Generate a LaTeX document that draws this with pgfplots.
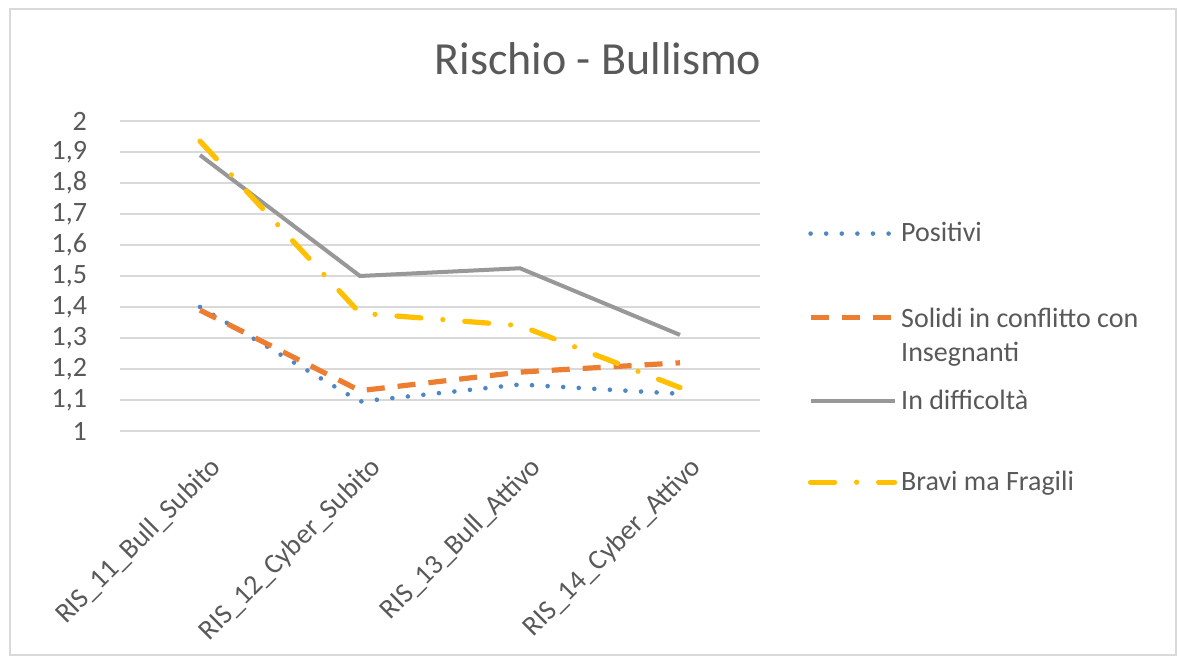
\documentclass[border=0pt]{standalone}
\usepackage{fontspec}
\setmainfont{Carlito}
\usepackage{pgfplots}
\pgfplotsset{compat=1.18}
\definecolor{cblue}{HTML}{4F86C6}
\definecolor{corange}{HTML}{ED7D31}
\definecolor{cgray}{HTML}{989898}
\definecolor{cgold}{HTML}{FFC000}
\definecolor{ctext}{HTML}{595959}
\definecolor{cgrid}{HTML}{D9D9D9}
\begin{document}
\begin{tikzpicture}
\fill[white] (0pt,0pt) rectangle (590pt,329.5pt);
\draw[cgrid, line width=0.8pt] (5pt,2pt) rectangle (588pt,325pt);
\node[font=\fontsize{23}{27}\selectfont, text=ctext] at (299pt,300pt) {Rischio - Bullismo};
\begin{axis}[
  at={(60pt,114pt)}, anchor=south west,
  scale only axis, width=320pt, height=155pt,
  xmin=-0.5, xmax=3.5, ymin=1, ymax=2,
  xtick={0,1,2,3},
  xticklabels={RIS\_11\_Bull\_Subito,RIS\_12\_Cyber\_Subito,RIS\_13\_Bull\_Attivo,RIS\_14\_Cyber\_Attivo},
  ytick={1,1.1,1.2,1.3,1.4,1.5,1.6,1.7,1.8,1.9,2},
  ymajorgrids, grid style={cgrid, line width=0.9pt},
  axis line style={draw=none}, tick style={draw=none},
  /pgf/number format/assume math mode=true,
  /pgf/number format/use comma, /pgf/number format/fixed, /pgf/number format/precision=1,
  tick label style={font=\fontsize{14}{16}\selectfont, text=ctext},
  yticklabel style={xshift=-13pt},
  xticklabel style={rotate=45, anchor=north east, xshift=-2pt, yshift=-8pt},
  legend style={at={(rel axis cs:1.065,0.70)}, anchor=north west, draw=none, fill=none,
    font=\fontsize{14}{17}\selectfont, text=ctext, row sep=25.5pt,
    cells={anchor=west}},
  legend cell align=left,
  legend image code/.code={\draw[#1] (0pt,0pt) -- (42pt,0pt);},
]
\addplot[cblue, line width=2.3pt, line cap=round, dash pattern=on 0pt off 7.8pt] coordinates {(0,1.40) (1,1.095) (2,1.15) (3,1.12)};
\addlegendentry{Positivi}
\addplot[corange, line width=2.6pt, dash pattern=on 9pt off 6.5pt] coordinates {(0,1.39) (1,1.13) (2,1.19) (3,1.22)};
\addlegendentry{\raisebox{0pt}[\height][0.25em]{\begin{tabular}[t]{@{}l@{}}Solidi in conflitto con\\Insegnanti\end{tabular}}}
\addplot[cgray, line width=2pt] coordinates {(0,1.89) (1,1.50) (2,1.525) (3,1.31)};
\addlegendentry{In difficoltà}
\addplot[cgold, line width=2.6pt, line cap=round, dash pattern=on 12pt off 11pt on 0pt off 11pt] coordinates {(0,1.935) (1,1.38) (2,1.34) (3,1.14)};
\addlegendentry{Bravi ma Fragili}
\end{axis}
\end{tikzpicture}
\end{document}
